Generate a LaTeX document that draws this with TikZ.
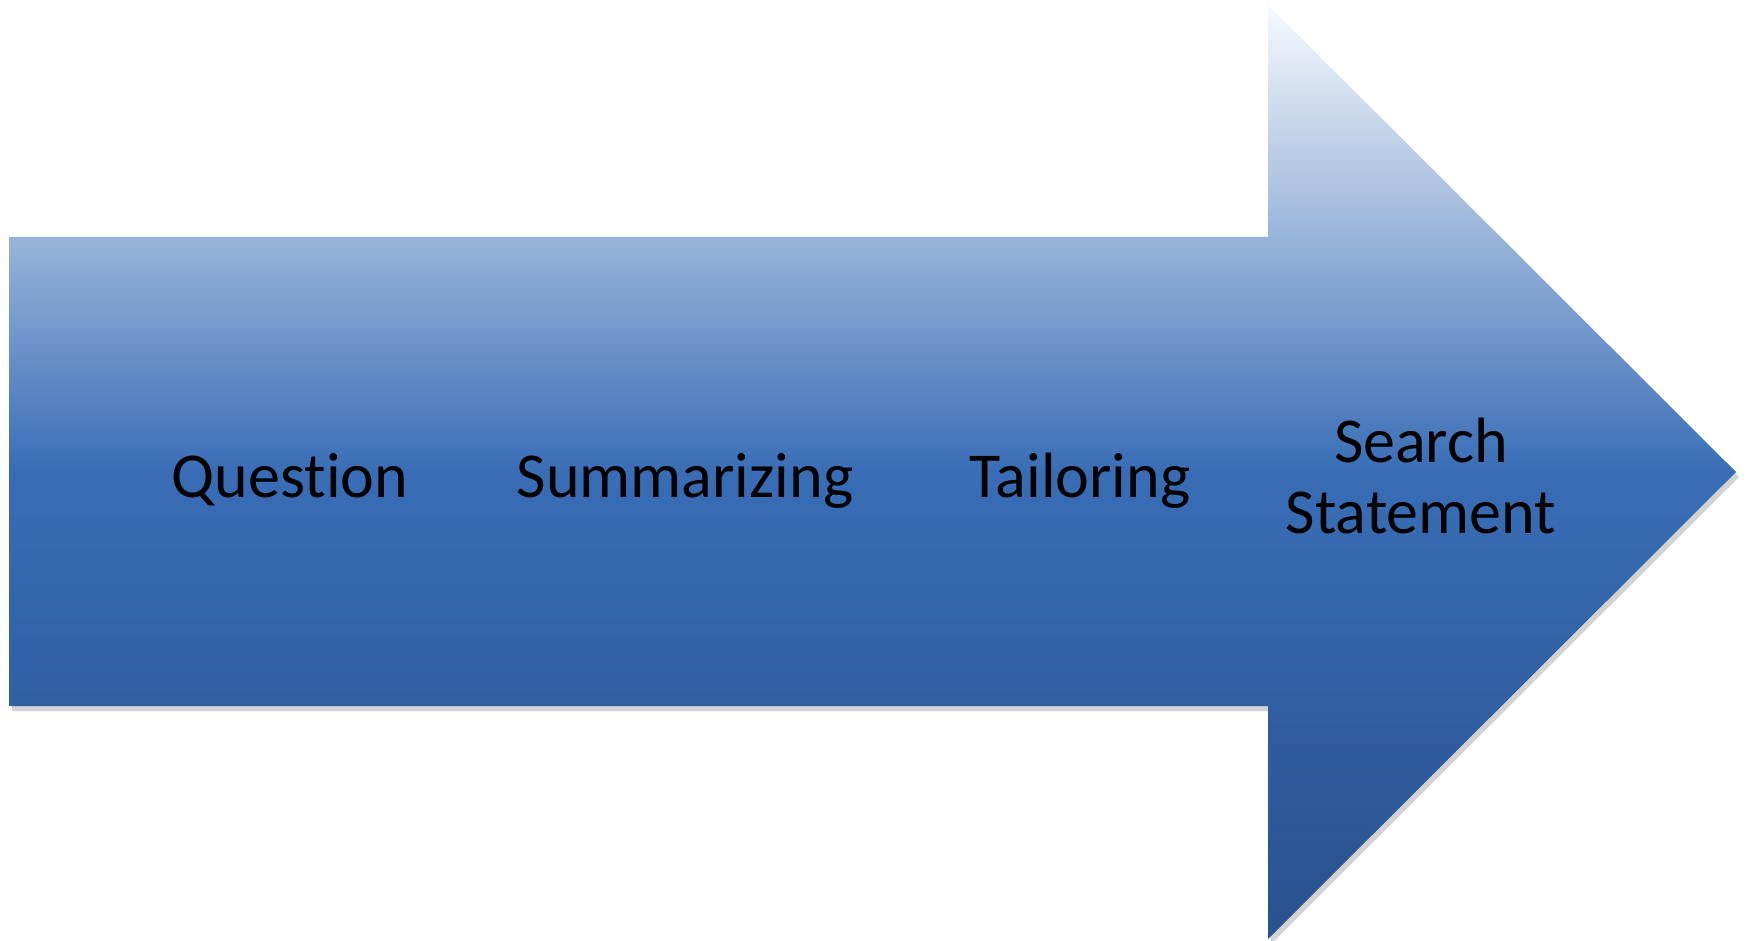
\documentclass[tikz,border=0pt]{standalone}
\usepackage{fontspec}
\setmainfont{Carlito}[Ligatures={NoCommon}]
\usetikzlibrary{shadows}
\definecolor{arrowtop}{HTML}{F8FAFD}
\definecolor{arrowmid}{HTML}{386DB6}
\definecolor{arrowbot}{HTML}{28528D}
\tikzset{
    bigarrow/.style={top color=arrowtop, bottom color=arrowbot, middle color=arrowmid,
        draw=none, drop shadow={opacity=0.35, shadow xshift=1.5pt, shadow yshift=-2.5pt}},
    steplabel/.style={font=\fontsize{32}{35.5}\selectfont, text=black, align=center, anchor=base},
}
\begin{document}
\begin{tikzpicture}[x=0.5pt, y=-0.5pt]
\useasboundingbox (0,0) rectangle (1750,941);
% corners of the arrow
\coordinate (bodyNW) at (9,237);
\coordinate (bodySW) at (9,706);
\coordinate (headN) at (1268,5);
\coordinate (headS) at (1268,939);
\coordinate (tip) at (1736,472);
\path[bigarrow] (bodyNW) -- (bodyNW -| headN) -- (headN) -- (tip) -- (headS) -- (bodySW -| headS) -- (bodySW) -- cycle;
\node[steplabel] (question) at (290,497) {Question};
\node[steplabel] (summ) at (685,497) {Summarizing};
\node[steplabel] (tailor) at (1080,497) {Tailoring};
\node[steplabel] (search) at (1421,533) {Search\\Statement};
\end{tikzpicture}
\end{document}
